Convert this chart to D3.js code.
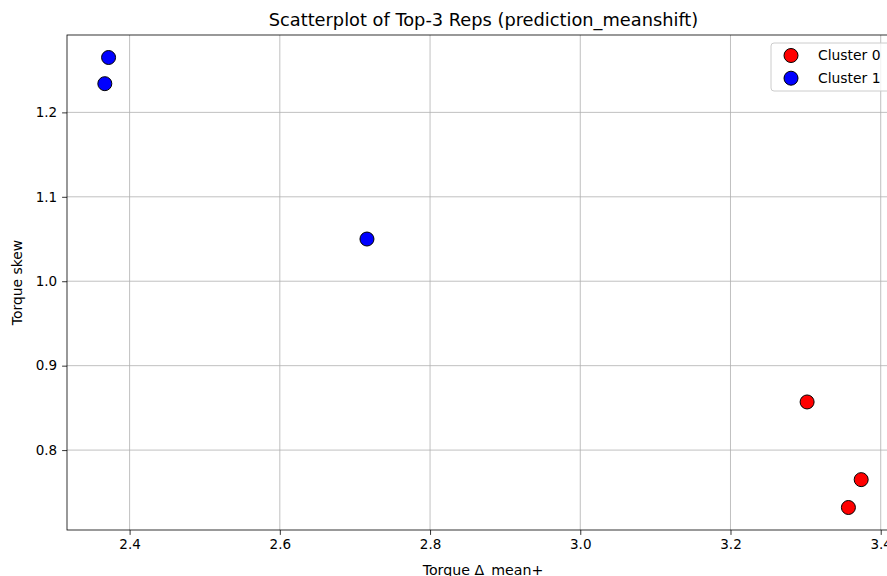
<!DOCTYPE html>
<html>
<head>
<meta charset="utf-8">
<script src="https://cdn.jsdelivr.net/npm/d3@7"></script>
<style>
  html, body { margin: 0; padding: 0; background: #fff; overflow: hidden; }
  svg { display: block; font-family: "DejaVu Sans", sans-serif; }
</style>
</head>
<body>
<svg id="chart" width="887" height="576"></svg>
<script>
// cluster data
const clusterNames = ["Cluster 0", "Cluster 1"];
const clusterColours = ["#ff0000", "#0000ff"];
const cluster0X = [3.302, 3.374, 3.357];
const cluster0Y = [0.857, 0.765, 0.732];
const cluster1X = [2.372, 2.367, 2.716];
const cluster1Y = [1.265, 1.234, 1.050];
const xTicks = [2.4, 2.6, 2.8, 3.0, 3.2, 3.4];
const yTicks = [0.8, 0.9, 1.0, 1.1, 1.2];

const svg = d3.select("#chart"),
  plotLeft = 67,
  plotRight = 899,
  plotTop = 35,
  plotBottom = 530,
  markerR = 7,
  tickFont = "13.5px";

const points = [
  ...cluster0X.map((x, i) => ({ x, y: cluster0Y[i], c: 0 })),
  ...cluster1X.map((x, i) => ({ x, y: cluster1Y[i], c: 1 })),
];

// matplotlib style 5% margins
function padded(ext) {
  const m = (ext[1] - ext[0]) * 0.05;
  return [ext[0] - m, ext[1] + m];
}

const x = d3.scaleLinear().domain(padded(d3.extent(points, (d) => d.x))).range([plotLeft, plotRight]);
const y = d3.scaleLinear().domain(padded(d3.extent(points, (d) => d.y))).range([plotBottom, plotTop]);

// grid
const grid = svg.append("g").attr("stroke", "#b0b0b0").attr("stroke-width", 0.8);
grid.selectAll("line.gx").data(xTicks).enter().append("line")
  .attr("x1", (d) => x(d)).attr("x2", (d) => x(d))
  .attr("y1", plotTop).attr("y2", plotBottom);
grid.selectAll("line.gy").data(yTicks).enter().append("line")
  .attr("x1", plotLeft).attr("x2", plotRight)
  .attr("y1", (d) => y(d)).attr("y2", (d) => y(d));

// axes
const xAxis = d3.axisBottom(x).tickValues(xTicks).tickFormat(d3.format(".1f")).tickSize(4.9).tickPadding(4.9);
const yAxis = d3.axisLeft(y).tickValues(yTicks).tickFormat(d3.format(".1f")).tickSize(4.9).tickPadding(4.9);

const gx = svg.append("g").attr("transform", `translate(0,${plotBottom})`).call(xAxis);
const gy = svg.append("g").attr("transform", `translate(${plotLeft},0)`).call(yAxis);
[gx, gy].forEach((g) => {
  g.select(".domain").remove();
  g.selectAll("line").attr("stroke", "#000").attr("stroke-width", 0.8);
  g.selectAll("text").attr("fill", "#000").style("font-size", tickFont).style("font-family", "DejaVu Sans");
});

// spines
svg.append("rect")
  .attr("x", plotLeft).attr("y", plotTop)
  .attr("width", plotRight - plotLeft).attr("height", plotBottom - plotTop)
  .attr("fill", "none").attr("stroke", "#000").attr("stroke-width", 0.8);

// points
svg.append("g").selectAll("circle").data(points).enter().append("circle")
  .attr("cx", (d) => x(d.x))
  .attr("cy", (d) => y(d.y))
  .attr("r", markerR)
  .attr("fill", (d) => clusterColours[d.c])
  .attr("stroke", "#000")
  .attr("stroke-width", 1);

// title and labels
svg.append("text")
  .attr("x", (plotLeft + plotRight) / 2 + 0.5).attr("y", 26)
  .attr("text-anchor", "middle")
  .style("font-size", "17.8px")
  .text("Scatterplot of Top-3 Reps (prediction_meanshift)");

svg.append("text")
  .attr("x", (plotLeft + plotRight) / 2).attr("y", 574.5)
  .attr("text-anchor", "middle")
  .style("font-size", "14.2px")
  .text("Torque Δ_mean+");

svg.append("text")
  .attr("transform", `translate(22,${(plotTop + plotBottom) / 2}) rotate(-90)`)
  .attr("text-anchor", "middle")
  .style("font-size", "13.9px")
  .text("Torque skew");

// legend
const legend = svg.append("g").attr("transform", "translate(771,43)");
legend.append("rect")
  .attr("width", 125).attr("height", 48)
  .attr("rx", 3)
  .attr("fill", "#fff").attr("fill-opacity", 0.8)
  .attr("stroke", "#cccccc").attr("stroke-width", 1);
const item = legend.selectAll("g.item").data(clusterNames).enter().append("g")
  .attr("transform", (d, i) => `translate(0,${12.5 + i * 22.7})`);
item.append("circle")
  .attr("cx", 20).attr("r", markerR)
  .attr("fill", (d, i) => clusterColours[i])
  .attr("stroke", "#000").attr("stroke-width", 1);
item.append("text")
  .attr("x", 47).attr("dy", "0.35em")
  .style("font-size", "13.9px")
  .text((d) => d);
</script>
</body>
</html>
